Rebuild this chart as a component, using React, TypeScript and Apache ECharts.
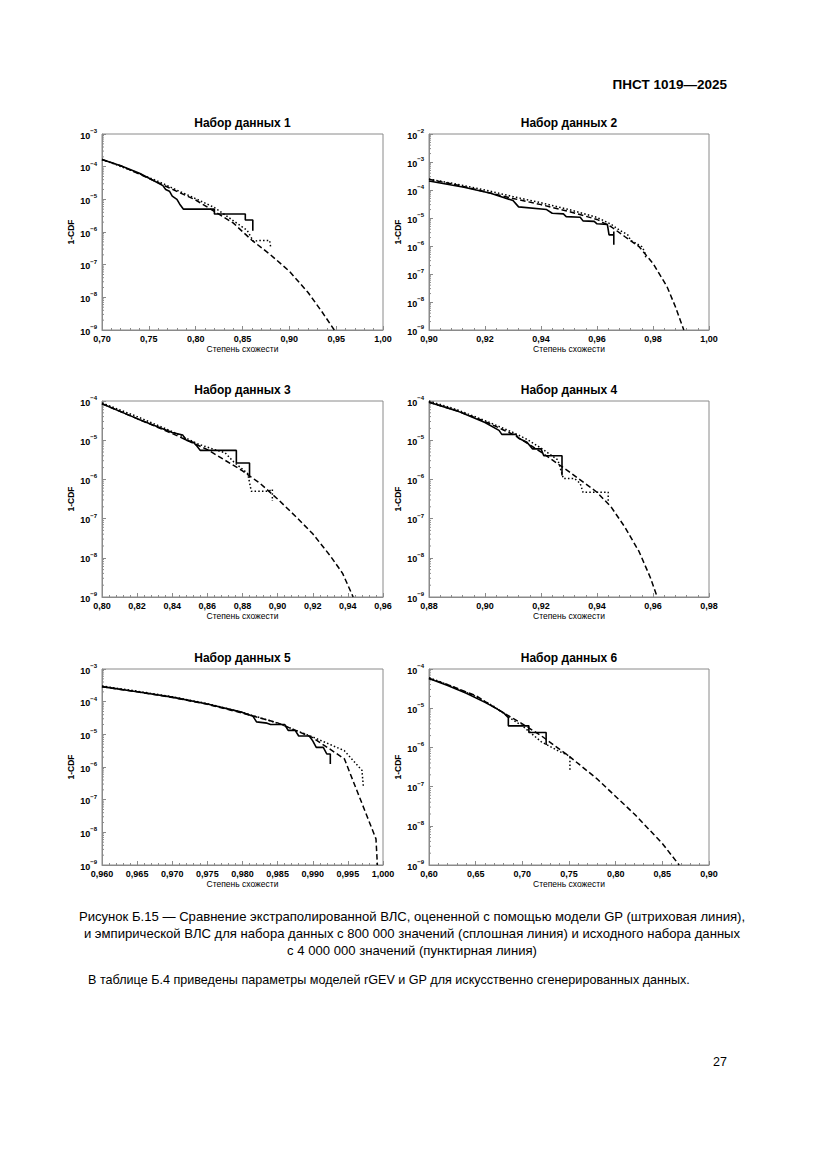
import React, { useEffect, useRef } from "react";
import * as echarts from "echarts";

// ---------- data ----------
const panelTitles = [
  "Набор данных 1",
  "Набор данных 2",
  "Набор данных 3",
  "Набор данных 4",
  "Набор данных 5",
  "Набор данных 6",
];
const xMinVals = [0.7, 0.9, 0.8, 0.88, 0.96, 0.6];
const xMaxVals = [1.0, 1.0, 0.96, 0.98, 1.0, 0.9];
const xSteps = [0.05, 0.02, 0.02, 0.02, 0.005, 0.05];
const xDecimals = [2, 2, 2, 2, 3, 2];
const yMaxVals = [1e-3, 1e-2, 1e-4, 1e-4, 1e-3, 1e-4];
const yMinVal = 1e-9;
const xAxisName = "Степень схожести";
const yAxisName = "1-CDF";

// Panel 1
const p1Solid = [
  [0.7, 1.66e-4], [0.72, 1.07e-4], [0.74, 6.3e-5], [0.76, 3.16e-5], [0.765, 2.63e-5],
  [0.768, 2.0e-5], [0.772, 1.78e-5], [0.775, 1.26e-5], [0.78, 1.0e-5], [0.783, 7.1e-6],
  [0.787, 5.0e-6], [0.82, 5.0e-6], [0.82, 3.55e-6], [0.853, 3.55e-6], [0.853, 2.34e-6],
  [0.861, 2.34e-6], [0.861, 1.1e-6],
];
const p1Dotted = [
  [0.7, 1.66e-4], [0.73, 7.94e-5], [0.76, 3.55e-5], [0.78, 1.91e-5], [0.8, 1.05e-5],
  [0.82, 5.62e-6], [0.84, 2.24e-6], [0.855, 1.12e-6], [0.862, 5.0e-7], [0.866, 5.5e-7],
  [0.879, 5.5e-7], [0.88, 3.55e-7],
];
const p1Dashed = [
  [0.7, 1.66e-4], [0.72, 1.07e-4], [0.75, 4.37e-5], [0.8, 9.55e-6], [0.84, 1.9e-6],
  [0.86, 5.6e-7], [0.88, 2.0e-7], [0.9, 6.3e-8], [0.92, 1.41e-8], [0.935, 3.55e-9],
  [0.948, 1e-9],
];

// Panel 2
const p2Solid = [
  [0.9, 2.1e-4], [0.9125, 1.26e-4], [0.922, 7.6e-5], [0.93, 4.2e-5], [0.932, 2.5e-5],
  [0.942, 2.0e-5], [0.944, 1.48e-5], [0.948, 1.4e-5], [0.949, 1.12e-5], [0.954, 1.07e-5],
  [0.955, 7.9e-6], [0.959, 7.6e-6], [0.96, 6.2e-6], [0.9637, 5.9e-6], [0.9643, 2.5e-6],
  [0.966, 2.5e-6], [0.966, 3.3e-6], [0.966, 1.1e-6],
];
const p2Dotted = [
  [0.9, 2.45e-4], [0.91, 1.62e-4], [0.92, 1.0e-4], [0.93, 5.8e-5], [0.94, 3.5e-5],
  [0.95, 2.0e-5], [0.96, 1.05e-5], [0.965, 6.0e-6], [0.968, 3.7e-6], [0.971, 2.5e-6],
  [0.972, 1.6e-6], [0.976, 9.5e-7], [0.977, 6.3e-7], [0.9775, 3.6e-7],
];
const p2Dashed = [
  [0.9, 2.4e-4], [0.91, 1.51e-4], [0.92, 8.7e-5], [0.93, 5.0e-5], [0.94, 3.0e-5],
  [0.95, 1.7e-5], [0.96, 8.9e-6], [0.965, 4.9e-6], [0.97, 2.14e-6], [0.975, 9.55e-7],
  [0.98, 2.4e-7], [0.985, 3.55e-8], [0.988, 6.76e-9], [0.991, 1e-9],
];

// Panel 3
const p3Solid = [
  [0.8, 8.5e-5], [0.82, 3.55e-5], [0.84, 1.58e-5], [0.846, 1.35e-5], [0.848, 1.0e-5],
  [0.852, 8.9e-6], [0.854, 7.1e-6], [0.856, 5.5e-6], [0.8765, 5.5e-6], [0.8765, 2.63e-6],
  [0.884, 2.63e-6], [0.884, 1.1e-6],
];
const p3Dotted = [
  [0.8, 8.9e-5], [0.82, 4.0e-5], [0.84, 1.66e-5], [0.855, 7.9e-6], [0.865, 5.6e-6],
  [0.87, 4.8e-6], [0.875, 2.8e-6], [0.883, 1.41e-6], [0.885, 5.0e-7], [0.895, 5.0e-7],
  [0.897, 5.6e-7], [0.897, 2.8e-7],
];
const p3Dashed = [
  [0.8, 8.5e-5], [0.82, 3.55e-5], [0.84, 1.48e-5], [0.86, 5.75e-6], [0.88, 1.66e-6],
  [0.89, 7.9e-7], [0.9, 3.16e-7], [0.91, 1.17e-7], [0.92, 4.1e-8], [0.93, 1.12e-8],
  [0.937, 4.0e-9], [0.943, 1e-9],
];

// Panel 4
const p4Solid = [
  [0.88, 9.3e-5], [0.89, 5.6e-5], [0.9, 2.82e-5], [0.905, 1.78e-5], [0.906, 1.41e-5],
  [0.911, 1.41e-5], [0.912, 1.12e-5], [0.915, 8.9e-6], [0.917, 6.0e-6], [0.92, 6.0e-6],
  [0.921, 4.0e-6], [0.9275, 4.0e-6], [0.9275, 1.26e-6],
];
const p4Dotted = [
  [0.88, 1.0e-4], [0.89, 6.0e-5], [0.9, 3.16e-5], [0.91, 1.58e-5], [0.915, 1.05e-5],
  [0.92, 6.3e-6], [0.926, 3.16e-6], [0.928, 1.05e-6], [0.932, 1.05e-6], [0.934, 7.9e-7],
  [0.935, 4.7e-7], [0.944, 4.7e-7], [0.944, 2.8e-7],
];
const p4Dashed = [
  [0.88, 9.3e-5], [0.89, 5.6e-5], [0.9, 3.0e-5], [0.91, 1.41e-5], [0.92, 5.0e-6],
  [0.93, 1.58e-6], [0.94, 4.7e-7], [0.945, 2.0e-7], [0.95, 6.0e-8], [0.955, 1.45e-8],
  [0.959, 3.2e-9], [0.9615, 1e-9],
];

// Panel 5
const p5Solid = [
  [0.96, 2.88e-4], [0.965, 2.0e-4], [0.97, 1.38e-4], [0.975, 8.5e-5], [0.98, 4.7e-5],
  [0.9815, 3.55e-5], [0.982, 2.4e-5], [0.9835, 2.2e-5], [0.984, 2.0e-5], [0.986, 2.0e-5],
  [0.9865, 1.32e-5], [0.9875, 1.32e-5], [0.988, 8.9e-6], [0.9895, 8.9e-6], [0.99, 6.3e-6],
  [0.9905, 4.0e-6], [0.9915, 4.0e-6], [0.992, 2.5e-6], [0.9925, 2.5e-6], [0.9925, 1.23e-6],
];
const p5Dotted = [
  [0.96, 3.0e-4], [0.965, 2.1e-4], [0.97, 1.41e-4], [0.975, 8.7e-5], [0.98, 4.7e-5],
  [0.985, 2.2e-5], [0.99, 8.3e-6], [0.9945, 3.16e-6], [0.997, 7.9e-7], [0.9972, 2.6e-7],
];
const p5Dashed = [
  [0.96, 2.88e-4], [0.965, 2.0e-4], [0.97, 1.35e-4], [0.975, 8.3e-5], [0.98, 4.47e-5],
  [0.985, 2.24e-5], [0.99, 7.9e-6], [0.9945, 1.78e-6], [0.999, 6.3e-9], [0.9992, 1e-9],
];

// Panel 6
const p6Solid = [
  [0.6, 5.75e-5], [0.62, 3.8e-5], [0.64, 2.4e-5], [0.66, 1.41e-5], [0.67, 1.05e-5],
  [0.68, 7.6e-6], [0.685, 5.75e-6], [0.685, 3.55e-6], [0.707, 3.55e-6], [0.707, 2.4e-6],
  [0.7255, 2.4e-6], [0.7255, 1.15e-6],
];
const p6Dotted = [
  [0.6, 6.0e-5], [0.62, 4.0e-5], [0.65, 2.0e-5], [0.67, 1.1e-5], [0.69, 5.0e-6],
  [0.7, 3.55e-6], [0.72, 1.41e-6], [0.74, 7.8e-7], [0.748, 6.5e-7], [0.751, 5.6e-7],
  [0.751, 2.4e-7],
];
const p6Dashed = [
  [0.6, 5.75e-5], [0.62, 4.0e-5], [0.65, 2.1e-5], [0.67, 1.05e-5], [0.7, 4.0e-6],
  [0.72, 2.0e-6], [0.75, 6.0e-7], [0.78, 1.58e-7], [0.8, 5.6e-8], [0.82, 2.0e-8],
  [0.85, 3.55e-9], [0.868, 1e-9],
];

const solidSeries = [p1Solid, p2Solid, p3Solid, p4Solid, p5Solid, p6Solid];
const dottedSeries = [p1Dotted, p2Dotted, p3Dotted, p4Dotted, p5Dotted, p6Dotted];
const dashedSeries = [p1Dashed, p2Dashed, p3Dashed, p4Dashed, p5Dashed, p6Dashed];

const headerText = "ПНСТ 1019—2025";
const captionLines = [
  "Рисунок Б.15 — Сравнение экстраполированной ВЛС, оцененной с помощью модели GP (штриховая линия),",
  "и эмпирической ВЛС для набора данных с 800 000 значений (сплошная линия) и исходного набора данных",
  "с 4 000 000 значений (пунктирная линия)",
];
const paragraphText =
  "В таблице Б.4 приведены параметры моделей rGEV и GP для искусственно сгенерированных данных.";
const pageNumber = "27";

// ---------- layout ----------
const colLeft = [102, 429];
const colWidth = [281, 280];
const rowTop = [134, 401, 669];
const plotHeight = 196;
const FONT = "'Liberation Sans', Arial, sans-serif";
const AXIS_GREY = "#8a8a8a";

function minorLogTicks(maxV: number): number[][] {
  const out: number[][] = [];
  const eMin = Math.round(Math.log10(yMinVal));
  const eMax = Math.round(Math.log10(maxV));
  for (let e = eMin; e < eMax; e++) {
    for (let m = 2; m <= 9; m++) out.push([m * Math.pow(10, e)]);
  }
  return out;
}

export default function App() {
  const ref = useRef<HTMLDivElement>(null);
  useEffect(() => {
    if (!ref.current) return;
    const chart = echarts.init(ref.current, undefined, { renderer: "svg" });

    const grids: any[] = [];
    const xAxes: any[] = [];
    const yAxes: any[] = [];
    const series: any[] = [];
    const graphics: any[] = [];

    for (let i = 0; i < 6; i++) {
      const col = i % 2;
      const row = Math.floor(i / 2);
      const left = colLeft[col];
      const top = rowTop[row];
      const width = colWidth[col];
      grids.push({
        left,
        top,
        width,
        height: plotHeight,
        show: true,
        borderColor: AXIS_GREY,
        borderWidth: 1,
        backgroundColor: "transparent",
        containLabel: false,
        outerBoundsMode: "none",
      });
      const dec = xDecimals[i];
      xAxes.push({
        type: "value",
        gridIndex: i,
        min: xMinVals[i],
        max: xMaxVals[i],
        interval: xSteps[i],
        name: xAxisName,
        nameLocation: "middle",
        nameGap: 14,
        nameTextStyle: { fontFamily: FONT, fontSize: 8.5, color: "#000", verticalAlign: "top" },
        axisLine: { show: true, lineStyle: { color: AXIS_GREY, width: 1 } },
        axisTick: { show: true, inside: true, length: 4, lineStyle: { color: AXIS_GREY } },
        minorTick: { show: true, splitNumber: 5, length: 2, lineStyle: { color: AXIS_GREY } },
        splitLine: { show: false },
        axisLabel: {
          fontFamily: FONT,
          fontSize: 9,
          fontWeight: "bold",
          color: "#000",
          margin: 4,
          showMinLabel: true,
          showMaxLabel: true,
          formatter: (v: number) => v.toFixed(dec).replace(".", ","),
        },
      });
      yAxes.push({
        type: "log",
        logBase: 10,
        gridIndex: i,
        min: yMinVal,
        max: yMaxVals[i],
        name: yAxisName,
        nameLocation: "middle",
        nameGap: 27,
        nameRotate: 90,
        nameTextStyle: { fontFamily: FONT, fontSize: 8.5, color: "#000", fontWeight: "bold" },
        axisLine: { show: true, lineStyle: { color: AXIS_GREY, width: 1 } },
        axisTick: { show: true, inside: true, length: 4, lineStyle: { color: AXIS_GREY } },
        splitLine: { show: false },
        axisLabel: {
          margin: 5,
          formatter: (v: number) => {
            const e = Math.round(Math.log10(v));
            return `{b|10}{s|${e < 0 ? "−" : ""}${Math.abs(e)}}`;
          },
          rich: {
            b: { fontFamily: FONT, fontSize: 9, fontWeight: "bold", color: "#000", lineHeight: 12, verticalAlign: "bottom" },
            s: { fontFamily: FONT, fontSize: 6, fontWeight: "bold", color: "#000", lineHeight: 12, verticalAlign: "top" },
          },
        },
      });

      const xmin = xMinVals[i];
      series.push({
        type: "custom",
        xAxisIndex: i,
        yAxisIndex: i,
        silent: true,
        data: minorLogTicks(yMaxVals[i]),
        renderItem: (_p: any, api: any) => {
          const pt = api.coord([xmin, api.value(0)]);
          return {
            type: "line",
            shape: { x1: pt[0], y1: pt[1], x2: pt[0] + 2, y2: pt[1] },
            style: { stroke: AXIS_GREY, lineWidth: 1 },
          };
        },
        encode: { y: 0 },
        clip: false,
      });
      series.push({
        type: "line",
        xAxisIndex: i,
        yAxisIndex: i,
        data: dashedSeries[i],
        showSymbol: false,
        lineStyle: { color: "#000", width: 1.5, type: [5.5, 3] },
        z: 3,
      });
      series.push({
        type: "line",
        xAxisIndex: i,
        yAxisIndex: i,
        data: dottedSeries[i],
        showSymbol: false,
        lineStyle: { color: "#000", width: 1.5, type: [1.5, 2.2] },
        z: 4,
      });
      series.push({
        type: "line",
        xAxisIndex: i,
        yAxisIndex: i,
        data: solidSeries[i],
        showSymbol: false,
        lineStyle: { color: "#000", width: 1.6 },
        z: 5,
      });

      graphics.push({
        type: "text",
        x: left + width / 2,
        y: top - 11,
        style: {
          text: panelTitles[i],
          fontFamily: FONT,
          fontSize: 12,
          fontWeight: "bold",
          fill: "#000",
          align: "center",
          verticalAlign: "middle",
        },
      });
    }

    graphics.push({
      type: "text",
      x: 727,
      y: 84,
      style: {
        text: headerText,
        fontFamily: FONT,
        fontSize: 13.5,
        fontWeight: "bold",
        fill: "#000",
        align: "right",
        verticalAlign: "middle",
      },
    });
    captionLines.forEach((t, k) => {
      graphics.push({
        type: "text",
        x: 412,
        y: 916 + k * 17,
        style: {
          text: t,
          fontFamily: FONT,
          fontSize: 13.1,
          fill: "#000",
          align: "center",
          verticalAlign: "middle",
        },
      });
    });
    graphics.push({
      type: "text",
      x: 88,
      y: 980,
      style: {
        text: paragraphText,
        fontFamily: FONT,
        fontSize: 12.6,
        fill: "#000",
        align: "left",
        verticalAlign: "middle",
      },
    });
    graphics.push({
      type: "text",
      x: 727,
      y: 1062,
      style: {
        text: pageNumber,
        fontFamily: FONT,
        fontSize: 12.5,
        fill: "#000",
        align: "right",
        verticalAlign: "middle",
      },
    });

    chart.setOption({
      animation: false,
      backgroundColor: "#fff",
      grid: grids,
      xAxis: xAxes,
      yAxis: yAxes,
      series,
      graphic: graphics,
    });
    return () => chart.dispose();
  }, []);

  return (
    <div
      ref={ref}
      style={{ position: "absolute", left: 0, top: 0, width: 827, height: 1169, background: "#fff" }}
    />
  );
}
